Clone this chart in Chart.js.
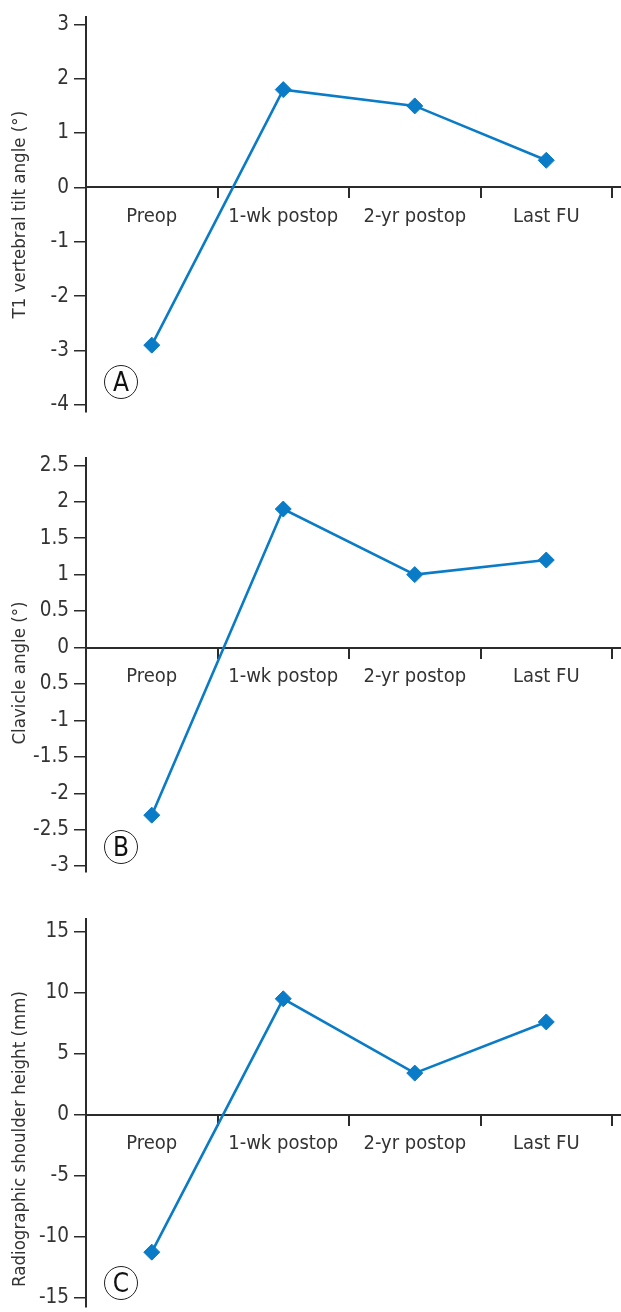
<!DOCTYPE html>
<html>
<head>
<meta charset="utf-8">
<script src="https://cdn.jsdelivr.net/npm/chart.js@4"></script>
<style>
  html, body { margin: 0; padding: 0; background: #fff; }
  body { width: 621px; height: 1312px; position: relative; overflow: hidden; }
  .panel { position: absolute; left: 0; width: 621px; }
  .panel canvas { display: block; }
  .badge {
    position: absolute; width: 32px; height: 32px; border: 1.3px solid #222; border-radius: 50%;
    font-family: 'DejaVu Sans Condensed', sans-serif; font-size: 26px;
    line-height: 32px; text-align: center; color: #111; box-sizing: content-box;
  }
</style>
</head>
<body>
<div class="panel" id="pA" style="top:0;height:440px"><canvas id="cA"></canvas></div>
<div class="panel" id="pB" style="top:440px;height:450px"><canvas id="cB"></canvas></div>
<div class="panel" id="pC" style="top:890px;height:440px"><canvas id="cC"></canvas></div>
<div class="badge" style="left:104px;top:365px">A</div>
<div class="badge" style="left:104px;top:830px">B</div>
<div class="badge" style="left:104px;top:1266px">C</div>
<script>
// ---- data ----
const categories = ['Preop', '1-wk postop', '2-yr postop', 'Last FU'];

const t1TiltValues = [-2.9, 1.8, 1.5, 0.5];
const t1TickValues = [-4, -3, -2, -1, 0, 1, 2, 3];
const t1TickLabels = ['-4', '-3', '-2', '-1', '0', '1', '2', '3'];

const clavicleValues = [-2.3, 1.9, 1.0, 1.2];
const clavicleTickValues = [-3, -2.5, -2, -1.5, -1, -0.5, 0, 0.5, 1, 1.5, 2, 2.5];
const clavicleTickLabels = ['-3', '-2.5', '-2', '-1.5', '-1', '0.5', '0', '0.5', '1', '1.5', '2', '2.5'];

const shoulderValues = [-11.3, 9.5, 3.4, 7.6];
const shoulderTickValues = [-15, -10, -5, 0, 5, 10, 15];
const shoulderTickLabels = ['-15', '-10', '-5', '0', '5', '10', '15'];

const titleA = 'T1 vertebral tilt angle (°)';
const titleB = 'Clavicle angle (°)';
const titleC = 'Radiographic shoulder height (mm)';

// ---- styling ----
const FONT = "'Liberation Sans Narrow', 'DejaVu Sans Condensed', sans-serif";
const BLUE = '#0a7bc6';
const AXIS = '#2b2b2b';

// extends the zero (category) axis line to the right edge of the page
const extendZeroLine = {
  id: 'extendZeroLine',
  afterDraw(chart) {
    const y = Math.round(chart.scales.y.getPixelForValue(0));
    const ctx = chart.ctx;
    ctx.save();
    ctx.strokeStyle = AXIS;
    ctx.lineWidth = 2;
    ctx.beginPath();
    ctx.moveTo(chart.chartArea.right, y);
    ctx.lineTo(chart.width, y);
    ctx.stroke();
    ctx.restore();
  }
};

// vertical y-axis title, centred on the axis with an optional shift
const yTitle = {
  id: 'yTitle',
  afterDraw(chart, args, opts) {
    const ctx = chart.ctx;
    const ca = chart.chartArea;
    ctx.save();
    ctx.translate(opts.x, (ca.top + ca.bottom) / 2 + opts.shift);
    ctx.rotate(-Math.PI / 2);
    ctx.font = '18.5px ' + FONT;
    ctx.fillStyle = '#333';
    ctx.textAlign = 'center';
    ctx.textBaseline = 'middle';
    ctx.fillText(opts.text, 0, 0);
    ctx.restore();
  }
};

function makeChart(id, values, tickValues, tickLabels, yMin, yMax, title, titleShift, padTop, padBottom) {
  const ctx = document.getElementById(id);
  return new Chart(ctx, {
    type: 'line',
    data: {
      labels: categories,
      datasets: [{
        data: values,
        borderColor: BLUE,
        backgroundColor: BLUE,
        borderWidth: 2.6,
        tension: 0,
        pointStyle: 'rectRot',
        pointRadius: 8,
        pointBorderWidth: 1,
        pointBorderColor: BLUE,
        pointBackgroundColor: BLUE,
        clip: false
      }]
    },
    plugins: [extendZeroLine, yTitle],
    options: {
      responsive: true,
      maintainAspectRatio: false,
      animation: false,
      layout: { padding: { top: padTop, bottom: padBottom, left: 0, right: 5 } },
      plugins: {
        legend: { display: false }, tooltip: { enabled: false },
        yTitle: { text: title, x: 20, shift: titleShift }
      },
      scales: {
        x: {
          type: 'category',
          position: { y: 0 },
          offset: true,
          grid: { offset: true, drawOnChartArea: false, drawTicks: true, tickLength: 10, color: AXIS, lineWidth: 2 },
          border: { display: true, color: AXIS, width: 2 },
          ticks: { color: '#333', font: { family: FONT, size: 20 }, padding: 7, maxRotation: 0, autoSkip: false }
        },
        y: {
          type: 'linear',
          min: yMin,
          max: yMax,
          afterBuildTicks: (axis) => { axis.ticks = tickValues.map(v => ({ value: v })); },
          afterFit: (axis) => { axis.width = 86; },
          grid: { drawOnChartArea: false, drawTicks: true, tickLength: 12, color: AXIS, lineWidth: 1.5 },
          border: { display: true, color: AXIS, width: 2 },
          ticks: {
            color: '#333', font: { family: FONT, size: 20.5 }, padding: 5, autoSkip: false,
            callback: (value) => {
              const i = tickValues.findIndex(v => Math.abs(v - value) < 1e-9);
              return i >= 0 ? tickLabels[i] : '';
            }
          },
          title: { display: false }
        }
      }
    }
  });
}

makeChart('cA', t1TiltValues, t1TickValues, t1TickLabels, -4.13, 3.13, titleA, 0, 13, 28);
makeChart('cB', clavicleValues, clavicleTickValues, clavicleTickLabels, -3.08, 2.6, titleB, 8, 18, 18);
makeChart('cC', shoulderValues, shoulderTickValues, shoulderTickLabels, -15.8, 16.05, titleC, 26, 29, 23);
</script>
</body>
</html>
